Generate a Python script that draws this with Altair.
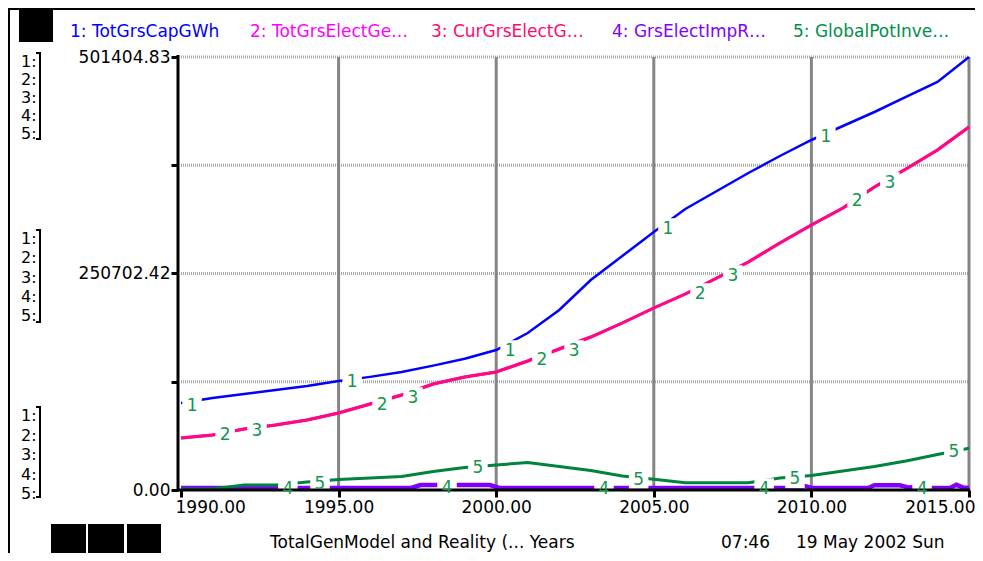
import altair as alt
import pandas as pd

# ---------------- data ----------------
years = list(range(1990, 2016))

tot_grs_cap = [100746, 106536, 111168, 115800, 120432, 126222, 131000, 136600,
               144000, 152000, 162120, 181806, 208440, 243180, 270972, 298764,
               325398, 346242, 367086, 386772, 405300, 421512, 437724, 455094,
               472464, 501404.83]

cur_grs_elect_gen = [60216, 63690, 70638, 75270, 81060, 89166, 99588, 110010,
                     122748, 130854, 136644, 149382, 163278, 177174, 193386,
                     210756, 226968, 245496, 264024, 286026, 306870, 326556,
                     350874, 371718, 393720, 420354]
tot_grs_elect_gen = list(cur_grs_elect_gen)

imp_years = [1990, 1997.3, 1997.6, 1999.8, 2000.1, 2009.6, 2009.8, 2010.0,
             2011.8, 2012.0, 2012.8, 2013.1, 2013.6, 2013.8, 2014.4, 2014.6,
             2014.8, 2015]
grs_elect_imp = [2300, 2300, 5800, 5800, 2300, 2300, 4500, 2300,
                 2300, 5500, 5500, 2800, 4500, 2300, 2300, 6000,
                 3000, 2300]

global_pot_inv = [1158, 1158, 5790, 5790, 9264, 12159, 13896, 15633, 21423,
                  26055, 28950, 31845, 27213, 22581, 16212, 12390, 8453, 8453,
                  8453, 13896, 16791, 22002, 27213, 33582, 41109, 48289]

series_names = ["1: TotGrsCapGWh", "2: TotGrsElectGe\u2026", "3: CurGrsElectG\u2026",
                "4: GrsElectImpR\u2026", "5: GlobalPotInve\u2026"]
line_colors = ["#0000FF", "#FF00FF", "#FF0A7C", "#8000FF", "#00843D"]
legend_colors = ["#0000FF", "#FF00FF", "#FF0A6E", "#8000FF", "#009048"]
line_widths = [2.5, 3, 3, 4.5, 3]

label_years = [
    [1990.35, 1995.43, 2000.44, 2005.45, 2010.46],
    [1991.40, 1996.38, 2001.45, 2006.47, 2011.45],
    [1992.41, 1997.36, 2002.47, 2007.51, 2012.49],
    [1993.39, 1998.44, 2003.42, 2008.50, 2013.51],
    [1994.41, 1999.42, 2004.52, 2009.48, 2014.52],
]
label_vals = [
    [98400, 126200, 162100, 303400, 410000],
    [64848, 99588, 151698, 228126, 335820],
    [69480, 107694, 162120, 248970, 356664],
    [1968, 3821, 1968, 2316, 2316],
    [7527, 26055, 12738, 13317, 45162],
]
label_color = "#129650"

y_ticks = [0, 125351.21, 250702.42, 376053.62, 501404.83]
x_ticks = [1990, 1995, 2000, 2005, 2010, 2015]
v_grid = [1995, 2000, 2005, 2010, 2015]
h_grid = [125351.21, 250702.42, 376053.62, 501404.83]

footer_left = "TotalGenModel and Reality (... Years"
footer_time = "07:46"
footer_date = "19 May 2002 Sun"

FONT = "DejaVu Sans"
W, H = 788, 433

# ---------------- scales / axes ----------------
x_scale = alt.Scale(domain=[1990, 2015], nice=False, zero=False)
y_scale = alt.Scale(domain=[0, 501404.83], nice=False, zero=True)

x_axis = alt.Axis(values=x_ticks, format=".2f", grid=False, title=None,
                  domain=False, tickColor="black",
                  tickWidth=3, tickSize=7, labelFontSize=17, labelFont=FONT,
                  labelColor="black", labelPadding=2, labelFlush=True,
                  labelFlushOffset=6)
y_axis = alt.Axis(values=y_ticks, grid=False, title=None,
                  labelExpr="(datum.value < 1 || abs(datum.value - 250702.42) < 1 || datum.value > 501404) ? format(datum.value, '.2f') : ''",
                  domain=False, tickColor="black",
                  tickWidth=3, tickSize=7, labelFontSize=17, labelFont=FONT,
                  labelColor="black", labelPadding=1, labelFlush=False,
                  offset=3)


def xenc(field="year"):
    return alt.X(f"{field}:Q", scale=x_scale, axis=x_axis)


def yenc(field="value"):
    return alt.Y(f"{field}:Q", scale=y_scale, axis=y_axis)


dummy = pd.DataFrame({"d": [0]})


def rule(x, x2, y, y2, w=2):
    return alt.Chart(dummy).mark_rule(color="black", strokeWidth=w).encode(
        x=alt.value(x), x2=alt.value(x2), y=alt.value(y), y2=alt.value(y2))


def box(x, x2, y, y2):
    return alt.Chart(dummy).mark_rect(color="black").encode(
        x=alt.value(x), x2=alt.value(x2), y=alt.value(y), y2=alt.value(y2))


def txt(s, x, y, color="black", size=17, align="left"):
    return alt.Chart(dummy).mark_text(
        color=color, fontSize=size, font=FONT, align=align, baseline="alphabetic"
    ).encode(x=alt.value(x), y=alt.value(y), text=alt.value(s))


layers = []

# grid lines
layers.append(
    alt.Chart(pd.DataFrame({"value": h_grid})).mark_rule(
        color="#A8A8A8", strokeWidth=3, strokeDash=[1, 1]
    ).encode(y=yenc(), x=alt.value(0), x2=alt.value(W))
)
layers.append(
    alt.Chart(pd.DataFrame({"year": v_grid})).mark_rule(
        color="#858585", strokeWidth=3
    ).encode(x=xenc(), y=alt.value(0), y2=alt.value(H))
)

# series lines
series_data = [
    (years, tot_grs_cap),
    (years, tot_grs_elect_gen),
    (years, cur_grs_elect_gen),
    (imp_years, grs_elect_imp),
    (years, global_pot_inv),
]
for i, (xs, vs) in enumerate(series_data):
    df = pd.DataFrame({"year": xs, "value": vs})
    layers.append(
        alt.Chart(df).mark_line(color=line_colors[i], strokeWidth=line_widths[i])
        .encode(x=xenc(), y=yenc())
    )

# numbered labels: white background patches
lab_rows = []
for i in range(5):
    for yr, v in zip(label_years[i], label_vals[i]):
        lab_rows.append({"year": yr, "value": v, "lab": str(i + 1)})
lab_df = pd.DataFrame(lab_rows)
layers.append(
    alt.Chart(lab_df).mark_square(color="white", opacity=1, size=380)
    .encode(x=xenc(), y=yenc())
)

# axis lines (drawn above the patches, below the numbers)
layers.append(rule(-3, -3, -2, H + 1, 3))
layers.append(rule(-4, W + 1, H, H, 3))

layers.append(
    alt.Chart(lab_df).mark_text(color=label_color, fontSize=17, font=FONT,
                                align="center", baseline="middle", dy=1)
    .encode(x=xenc(), y=yenc(), text="lab:N")
)

# ---------------- decorations (frame, boxes, legend, footer) ----------------
layers.append(rule(-172, -172, -49, 500, 2))
layers.append(rule(-173, 800, -48, -48, 2))

layers.append(box(-162, -128, -49, -15))
layers.append(box(-130, -95, 467, 500))
layers.append(box(-93, -57, 467, 500))
layers.append(box(-54, -20, 467, 500))

legend_x = [-111, 69, 250, 431, 612]
for name, col, lx in zip(series_names, legend_colors, legend_x):
    layers.append(txt(name, lx, -20, color=col, size=17))

group_start = [10, 187, 364]
group_step = [18, 19.25, 19.5]
group_bracket = [(-4, 82), (173, 265), (350, 440)]
for gs, st, (b0, b1) in zip(group_start, group_step, group_bracket):
    for k in range(5):
        layers.append(txt(f"{k + 1}:", -160, gs + k * st, size=16))
    layers.append(rule(-141, -141, b0, b1, 2))
    layers.append(rule(-145, -140, b0, b0, 2))
    layers.append(rule(-145, -140, b1, b1, 2))

layers.append(txt(footer_left, 89, 491, size=17))
layers.append(txt(footer_time, 540, 491, size=17))
layers.append(txt(footer_date, 615, 491, size=17))

chart = alt.layer(*layers).properties(
    width=W, height=H,
    padding={"left": 173, "top": 49, "right": 6, "bottom": 63},
    autosize=alt.AutoSizeParams(type="none"),
    background="white",
).configure_view(stroke=None)

chart.save("out.html", embed_options={"renderer": "svg", "actions": False})
